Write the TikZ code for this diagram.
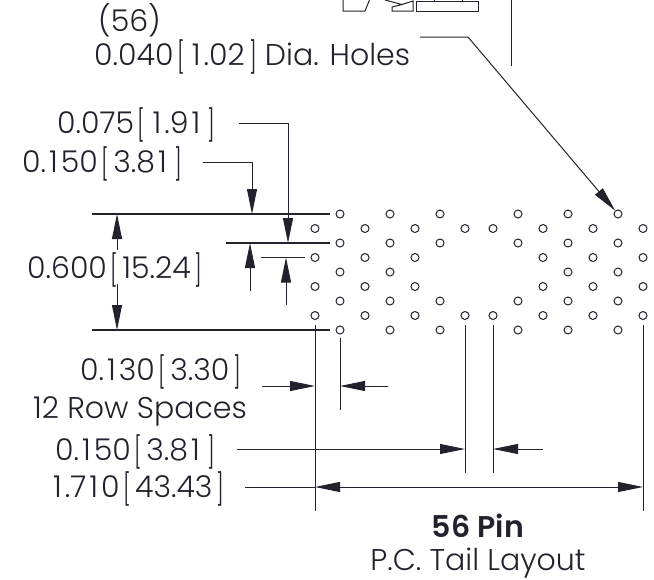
\documentclass[tikz,border=0pt]{standalone}
\usepackage{fontspec}
\setmainfont{Poppins}[UprightFont=*-Light,BoldFont=*-SemiBold]
\usetikzlibrary{arrows.meta}
\definecolor{inkdark}{HTML}{22222E}
\newcommand{\lbk}{\kern0.12em\raisebox{-0.1em}{\scalebox{0.7}[1.03]{[}}\kern0.14em}
\newcommand{\rbk}{\kern0.14em\raisebox{-0.1em}{\scalebox{0.7}[1.03]{]}}}
\newcommand{\dimtxt}[2]{#1\lbk#2\rbk}
\newcommand{\wo}{\kern0.1em 1\kern0.1em}
\tikzset{
  lbl/.style={anchor=base west,inner sep=0pt,text=inkdark,font=\fontsize{30}{34}\selectfont},
  hole/.style={draw=inkdark,circle,line width=1pt,minimum size=8pt,inner sep=0pt},
  thin line/.style={draw=inkdark,line width=1pt},
  dimline/.style={thin line,-{Triangle[length=25pt,width=10pt]}},
  dimboth/.style={thin line,{Triangle[length=25pt,width=10pt]}-{Triangle[length=25pt,width=10pt]}},
  extline/.style={thin line,line width=1.2pt,shorten >=6pt},
  extdown/.style={thin line,shorten <=5pt}
}
\begin{document}
\begin{tikzpicture}[x=1pt,y=-1pt]
\useasboundingbox (0,0) rectangle (654,579);

% Hole pattern
\foreach \r/\yy in {0/214,2/243,6/301,8/330}
  \foreach \xx in {340,390,440,518,568,618}
    \node[hole] (h\xx-\r) at (\xx,\yy) {};
\foreach \xx in {340,390,568,618}
  \node[hole] (h\xx-4) at (\xx,272) {};
\foreach \r/\yy in {1/228.5,7/315.5}
  \foreach \xx in {315,365,415,465,493,543,593,643}
    \node[hole] (h\xx-\r) at (\xx,\yy) {};
\foreach \r/\yy in {3/257.5,5/286.5}
  \foreach \xx in {315,365,415,543,593,643}
    \node[hole] (h\xx-\r) at (\xx,\yy) {};

% Connector outline at the top
\draw[thin line] (343,0) -- (343,11) -- (365,11) -- (369.5,0);
\draw[thin line] (385,0) -- (402,4.5) -- (392,7) -- (392,11) -- (413,11) -- (413,1) -- (402,4.5);
\draw[thin line] (416.5,1) rectangle (478,11);
\draw[thin line] (434,0) -- (434,1) (462,0) -- (462,1);
\coordinate (toptop) at (511,0);
\coordinate (topend) at (511,66);
\draw[thin line] (toptop) -- (topend);

% Labels
\node[lbl] (holecount) at (98,31) {(56)};
\node[lbl] (holedia) at (94,65) {\dimtxt{0.040}{\wo.02}\ Dia. Holes};
\node[lbl] (rowoff) at (57,133) {\dimtxt{0.075}{\wo.9\wo}};
\node[lbl] (rowpitch) at (22,172) {\dimtxt{0.\wo50}{3.8\wo}};
\node[lbl] (height) at (27,278) {\dimtxt{0.600}{15.24}};
\node[lbl] (colpitch) at (80,380) {\dimtxt{0.\wo30}{3.30}};
\node[lbl] (rowspaces) at (33,418) {12 Row Spaces};
\node[lbl] (gap) at (55,460) {\dimtxt{0.\wo50}{3.8\wo}};
\node[lbl] (width) at (50,497) {\dimtxt{\wo.7\wo0}{43.43}};
\node[lbl,anchor=base] (pin) at (478,537) {\textbf{56 Pin}};
\node[lbl,anchor=base] (tail) at (478,570) {P.C. Tail Layout};

% Leaders
\coordinate (diaa) at (420,37);
\coordinate (diab) at (468,37);
\draw[dimline] (diaa) -- (diab) -- (h618-0);
\coordinate (offa) at (239,123);
\coordinate (offb) at (288,123);
\coordinate (offc) at (288,243);
\draw[dimline] (offa) -- (offb) -- (offc);
\coordinate (pita) at (203,162);
\coordinate (pitb) at (252,162);
\coordinate (pitc) at (252,214);
\draw[dimline] (pita) -- (pitb) -- (pitc);

% Extension lines, left side
\coordinate (exta) at (92,214);
\coordinate (extb) at (226,243);
\coordinate (extc) at (261,257.5);
\coordinate (extd) at (92,330);
\draw[extline] (exta) -- (h340-0);
\draw[extline] (extb) -- (h340-2);
\draw[extline] (extc) -- (h315-3);
\draw[extline] (extd) -- (h340-8);

% Height dimensions
\coordinate (hta) at (117,214);
\coordinate (htb) at (117,250);
\coordinate (htc) at (117,284);
\coordinate (htd) at (117,330);
\draw[dimline] (htb) -- (hta);
\draw[dimline] (htc) -- (htd);
\coordinate (upa) at (250,291);
\coordinate (upb) at (250,243);
\draw[dimline] (upa) -- (upb);
\coordinate (upc) at (286,305);
\coordinate (upd) at (286,257.5);
\draw[dimline] (upc) -- (upd);

% Extension lines, bottom
\coordinate (vaend) at (315,511);
\coordinate (vbstart) at (340,338);
\coordinate (vbend) at (340,410);
\coordinate (vcend) at (465,473);
\coordinate (vdend) at (493,473);
\coordinate (veend) at (643,511);
\draw[extdown] (h315-7) -- (vaend);
\draw[thin line] (vbstart) -- (vbend);
\draw[extdown] (h465-7) -- (vcend);
\draw[extdown] (h493-7) -- (vdend);
\draw[extdown] (h643-7) -- (veend);

% Width dimensions
\coordinate (cpa) at (262,386);
\coordinate (cpb) at (315,386);
\coordinate (cpc) at (388,386);
\coordinate (cpd) at (340,386);
\draw[dimline] (cpa) -- (cpb);
\draw[dimline] (cpc) -- (cpd);
\coordinate (gpa) at (237,449);
\coordinate (gpb) at (465,449);
\coordinate (gpc) at (543,449);
\coordinate (gpd) at (493,449);
\draw[dimline] (gpa) -- (gpb);
\draw[dimline] (gpc) -- (gpd);
\coordinate (wda) at (245,487);
\coordinate (wdb) at (315,487);
\coordinate (wdc) at (643,487);
\draw[thin line] (wda) -- (wdb);
\draw[dimboth] (wdb) -- (wdc);
\end{tikzpicture}
\end{document}
